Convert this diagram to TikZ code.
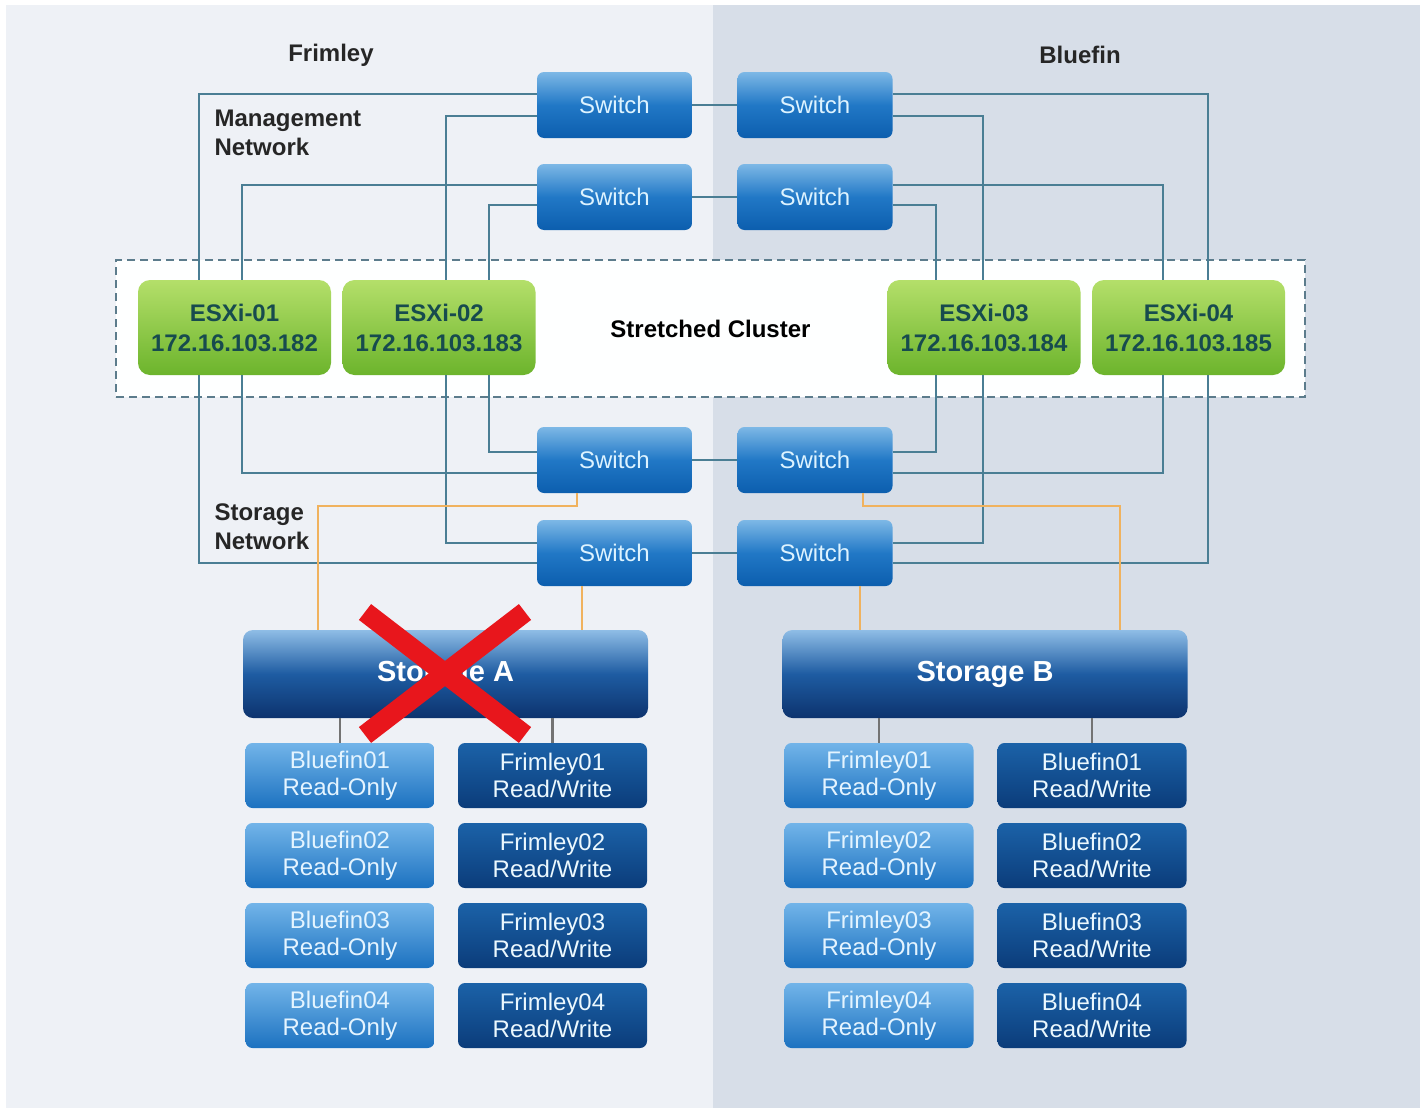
\documentclass[tikz,border=0pt]{standalone}
\usepackage{fontspec}
\setmainfont{Liberation Sans}
\usetikzlibrary{calc}
\definecolor{leftbg}{HTML}{EEF1F6}
\definecolor{rightbg}{HTML}{D7DEE8}
\definecolor{swtop}{HTML}{7DB8E6}
\definecolor{swmid}{HTML}{2178C6}
\definecolor{swbot}{HTML}{0C5EAE}
\definecolor{swtext}{HTML}{DDF3FF}
\definecolor{esxtop}{HTML}{B4DF6A}
\definecolor{esxbot}{HTML}{6CB42C}
\definecolor{esxtext}{HTML}{174B4E}
\definecolor{sttop}{HTML}{8FBDE6}
\definecolor{stmid}{HTML}{1E5CA2}
\definecolor{stbot}{HTML}{0D336E}
\definecolor{rotop}{HTML}{72B4E9}
\definecolor{robot}{HTML}{1C72C0}
\definecolor{rotext}{HTML}{E4F4FF}
\definecolor{rwtop}{HTML}{1B62A8}
\definecolor{rwbot}{HTML}{0B3C7A}
\definecolor{lanline}{HTML}{4A7E94}
\definecolor{sanline}{HTML}{F0B25E}
\definecolor{dashline}{HTML}{5C7C8C}
\definecolor{crossred}{HTML}{E8161C}

\begin{document}
\begin{tikzpicture}[x=1pt,y=-1pt]
\tikzset{switchbox/.style={rounded corners=7pt,top color=swtop,bottom color=swbot,middle color=swmid,
  minimum width=155pt,minimum height=66pt,inner sep=0pt,text=swtext,font=\fontsize{24}{28}\selectfont},
esxbox/.style={rounded corners=12pt,top color=esxtop,bottom color=esxbot,minimum width=193pt,
  minimum height=95pt,inner sep=0pt,align=center,text=esxtext,font=\fontsize{24}{30}\selectfont\bfseries},
storebox/.style={rounded corners=10pt,top color=sttop,bottom color=stbot,middle color=stmid,
  minimum width=405pt,minimum height=88pt,inner sep=0pt,text=white,font=\fontsize{29}{32}\selectfont\bfseries},
robox/.style={rounded corners=7pt,top color=rotop,bottom color=robot,minimum width=189pt,minimum height=65pt,
  inner sep=0pt,align=center,text=rotext,font=\fontsize{24}{27}\selectfont},
rwbox/.style={robox,top color=rwtop,bottom color=rwbot,text=white!92!cyan},
cluster/.style={draw=dashline,line width=2pt,dash pattern=on 8pt off 5pt,fill=white!97!leftbg,
  minimum width=1189pt,minimum height=137pt,font=\fontsize{24}{28}\selectfont\bfseries},
site/.style={font=\fontsize{24}{29}\selectfont\bfseries,text=black!85,align=left},
lan/.style={draw=lanline,line width=2.2pt},
san/.style={draw=sanline,line width=2.4pt}}
\useasboundingbox (0,0) rectangle (1428,1111);
\fill[white] (0,0) rectangle (1428,1111);
\fill[leftbg] (6,5) rectangle (713,1108);
\fill[rightbg] (713,5) rectangle (1420,1108);

% sites and networks
\node[site] (frim) at (331,55) {Frimley};
\node[site] (blue) at (1080,55) {Bluefin};
\node[site,anchor=west] (mgmt) at (211,132.5) {Management\\Network};
\node[site,anchor=west] (stor) at (211,526.5) {Storage\\Network};
\node[cluster] (clu) at (710.5,328.5) {Stretched Cluster};

% switches
\node[switchbox] (sw1) at (614.5,105) {Switch};
\node[switchbox] (sw2) at (815,105) {Switch};
\node[switchbox] (sw3) at (614.5,197) {Switch};
\node[switchbox] (sw4) at (815,197) {Switch};
\node[switchbox] (sw5) at (614.5,460) {Switch};
\node[switchbox] (sw6) at (815,460) {Switch};
\node[switchbox] (sw7) at (614.5,553) {Switch};
\node[switchbox] (sw8) at (815,553) {Switch};

% hosts
\node[esxbox] (esx1) at (234.5,327.5) {ESXi-01\\172.16.103.182};
\node[esxbox] (esx2) at (439,327.5) {ESXi-02\\172.16.103.183};
\node[esxbox] (esx3) at (984,327.5) {ESXi-03\\172.16.103.184};
\node[esxbox] (esx4) at (1188.5,327.5) {ESXi-04\\172.16.103.185};

% storage
\node[storebox] (stA) at (445.5,674) {Storage A};
\node[storebox] (stB) at (985,674) {Storage B};
\node[robox] (va1) at (340,775.5) {Bluefin01\\Read-Only};
\node[rwbox] (wa1) at (552.5,775.5) {Frimley01\\Read/Write};
\node[robox] (va2) at (340,855.5) {Bluefin02\\Read-Only};
\node[rwbox] (wa2) at (552.5,855.5) {Frimley02\\Read/Write};
\node[robox] (va3) at (340,935.5) {Bluefin03\\Read-Only};
\node[rwbox] (wa3) at (552.5,935.5) {Frimley03\\Read/Write};
\node[robox] (va4) at (340,1015.5) {Bluefin04\\Read-Only};
\node[rwbox] (wa4) at (552.5,1015.5) {Frimley04\\Read/Write};
\node[robox] (vb1) at (879,775.5) {Frimley01\\Read-Only};
\node[rwbox] (wb1) at (1092,775.5) {Bluefin01\\Read/Write};
\node[robox] (vb2) at (879,855.5) {Frimley02\\Read-Only};
\node[rwbox] (wb2) at (1092,855.5) {Bluefin02\\Read/Write};
\node[robox] (vb3) at (879,935.5) {Frimley03\\Read-Only};
\node[rwbox] (wb3) at (1092,935.5) {Bluefin03\\Read/Write};
\node[robox] (vb4) at (879,1015.5) {Frimley04\\Read-Only};
\node[rwbox] (wb4) at (1092,1015.5) {Bluefin04\\Read/Write};

% management network
\draw[lan] (sw1) -- (sw2);
\draw[lan] (sw3) -- (sw4);
\draw[lan] ($(sw1.west)+(0,-11)$) -| ($(esx1.north)+(-35.5,0)$);
\draw[lan] ($(sw1.west)+(0,11)$) -| ($(esx2.north)+(7,0)$);
\draw[lan] ($(sw3.west)+(0,-12)$) -| ($(esx1.north)+(7.5,0)$);
\draw[lan] ($(sw3.west)+(0,8)$) -| ($(esx2.north)+(50,0)$);
\draw[lan] ($(sw2.east)+(0,-11)$) -| ($(esx4.north)+(19.5,0)$);
\draw[lan] ($(sw2.east)+(0,11)$) -| ($(esx3.north)+(-1,0)$);
\draw[lan] ($(sw4.east)+(0,-12)$) -| ($(esx4.north)+(-25.5,0)$);
\draw[lan] ($(sw4.east)+(0,8)$) -| ($(esx3.north)+(-48,0)$);

% storage network
\draw[lan] (sw5) -- (sw6);
\draw[lan] (sw7) -- (sw8);
\draw[lan] ($(sw5.west)+(0,-8)$) -| ($(esx2.south)+(50,0)$);
\draw[lan] ($(sw5.west)+(0,13)$) -| ($(esx1.south)+(7.5,0)$);
\draw[lan] ($(sw7.west)+(0,-10)$) -| ($(esx2.south)+(7,0)$);
\draw[lan] ($(sw7.west)+(0,10)$) -| ($(esx1.south)+(-35.5,0)$);
\draw[lan] ($(sw6.east)+(0,-8)$) -| ($(esx3.south)+(-48,0)$);
\draw[lan] ($(sw6.east)+(0,13)$) -| ($(esx4.south)+(-25.5,0)$);
\draw[lan] ($(sw8.east)+(0,-10)$) -| ($(esx3.south)+(-1,0)$);
\draw[lan] ($(sw8.east)+(0,10)$) -| ($(esx4.south)+(19.5,0)$);

% storage uplinks
\draw[san] ($(sw5.south)+(-37.5,0)$) -- ++(0,13) -| ($(stA.north)+(-127.5,0)$);
\draw[san] ($(sw7.south)+(-32.5,0)$) -- ($(stA.north)+(136.5,0)$);
\draw[san] ($(sw6.south)+(48,0)$) -- ++(0,13) -| ($(stB.north)+(135,0)$);
\draw[san] ($(sw8.south)+(45,0)$) -- ($(stB.north)+(-125,0)$);
\draw[lan,draw=black!55] (va1.north |- stA.south) -- (va1.north);
\draw[lan,draw=black!55] (wa1.north |- stA.south) -- (wa1.north);
\draw[lan,draw=black!55] (vb1.north |- stB.south) -- (vb1.north);
\draw[lan,draw=black!55] (wb1.north |- stB.south) -- (wb1.north);

% failed array
\draw[crossred,line width=20pt] ($(stA.center)+(-80.5,-62)$) -- ($(stA.center)+(79.5,61)$);
\draw[crossred,line width=20pt] ($(stA.center)+(79.5,-62)$) -- ($(stA.center)+(-80.5,61)$);
\end{tikzpicture}
\end{document}
